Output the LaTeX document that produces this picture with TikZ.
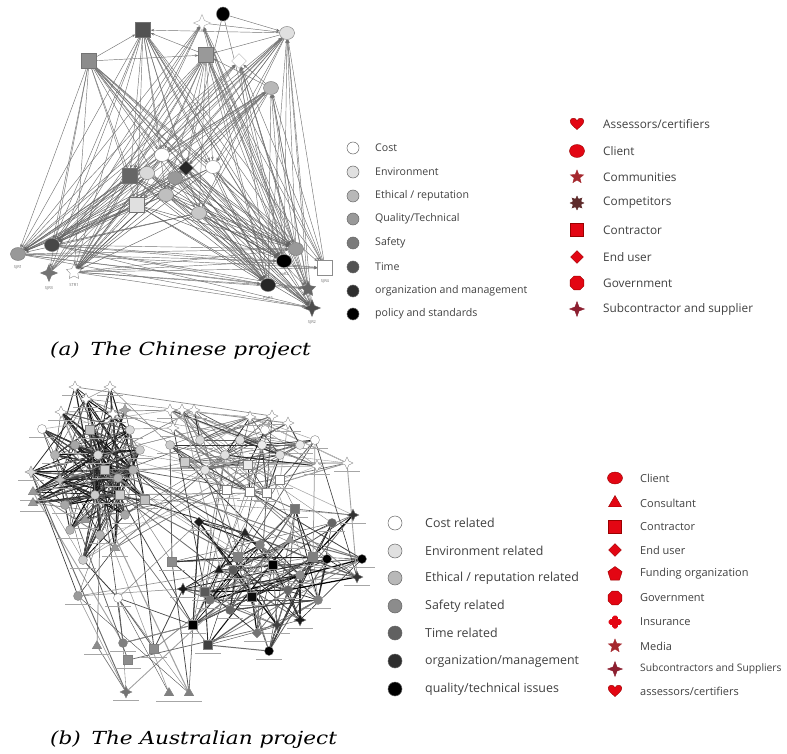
\documentclass[tikz,border=0pt]{standalone}
\usepackage{fontspec}
\setmainfont{DejaVu Serif}
\newfontfamily\legendfont{Open Sans}
\newfontfamily\capfont{DejaVu Serif}[FakeStretch=1.2]
\usetikzlibrary{shapes.geometric,arrows.meta}
\pgfdeclarelayer{edges}
\pgfsetlayers{edges,main}

\definecolor{lred}{HTML}{E30613}
\definecolor{lredline}{HTML}{9A0000}
\definecolor{lwine}{HTML}{A5282E}
\definecolor{lbrown}{HTML}{5E2B2B}
\definecolor{lplum}{HTML}{8C1F30}

% random connectors: from #1<lo..hi> to #4<1..n>, #6 lines,
% grey level between #7 and #8 percent black, width up to 0.3+#9
\newcommand\randedges[9]{%
  \foreach \k in {1,...,#6} {%
    \pgfmathtruncatemacro\ep{random(#2,#3)}%
    \pgfmathtruncatemacro\eq{random(1,#5)}%
    \pgfmathtruncatemacro\eg{random(#7,#8)}%
    \pgfmathsetmacro\ew{0.3+rnd*#9}%
    \ifnum\ep=\eq\relax\else
      \draw[bedge, draw=black!\eg, line width=\ew pt] (#1\ep) -- (#4\eq);
    \fi
  }}

\tikzset{
  anode/.style={draw=black!55, line width=0.4pt, inner sep=0pt},
  acirc/.style={anode, ellipse, minimum width=15, minimum height=13},
  asq/.style={anode, rectangle, minimum size=15},
  adia/.style={anode, diamond, minimum size=15},
  astarf/.style={anode, star, star points=4, star point ratio=2.4, minimum size=17},
  astarv/.style={anode, star, star points=5, star point ratio=2, minimum size=16},
  aedge/.style={draw=black!55, line width=0.45pt, -{Stealth[length=3.5pt,width=2.5pt]}},
  atag/.style={font=\legendfont\fontsize{4}{4}\selectfont, text=black!60, inner sep=0.5pt},
  bnode/.style={draw=black!50, line width=0.35pt, inner sep=0pt},
  bcir/.style={bnode, circle, minimum size=9},
  bsq/.style={bnode, rectangle, minimum size=9},
  bdia/.style={bnode, diamond, minimum size=10},
  btri/.style={bnode, regular polygon, regular polygon sides=3, minimum size=11},
  bst/.style={bnode, star, star points=4, star point ratio=2.2, minimum size=12},
  bedge/.style={line cap=round},
  tagline/.style={draw=black!35, line width=0.6pt},
  lgcirc/.style={draw=black!60, line width=0.5pt, circle, minimum size=12, inner sep=0pt},
  lgcircb/.style={draw=black!60, line width=0.5pt, circle, minimum size=14, inner sep=0pt},
  lgtxt/.style={anchor=west, inner sep=0pt, text=black!75, font=\legendfont\fontsize{10.6}{12}\selectfont},
  lgtxtb/.style={anchor=west, inner sep=0pt, text=black!75, font=\legendfont\fontsize{12.4}{14}\selectfont},
  lgtxtr/.style={anchor=west, inner sep=0pt, text=black!75, font=\legendfont\fontsize{11.8}{13}\selectfont},
  lgtxts/.style={anchor=west, inner sep=0pt, text=black!75, font=\legendfont\fontsize{11}{13}\selectfont},
  rsym/.style={fill=lred, draw=lredline, line width=0.4pt, inner sep=0pt},
  caption/.style={anchor=west, inner sep=0pt, font=\capfont\itshape\fontsize{18}{20}\selectfont},
  heart/.pic={\fill[lred, draw=lredline, line width=0.4pt]
    (0,5.5) .. controls (-4,2) and (-7,-0.5) .. (-6.8,-3)
    .. controls (-6.5,-6.5) and (-1.5,-6.8) .. (0,-3.3)
    .. controls (1.5,-6.8) and (6.5,-6.5) .. (6.8,-3)
    .. controls (7,-0.5) and (4,2) .. (0,5.5) -- cycle;},
  plus/.pic={\fill[lred, rounded corners=1.8pt] (-2.8,-6.5) rectangle (2.8,6.5);
    \fill[lred, rounded corners=1.8pt] (-6.5,-2.8) rectangle (6.5,2.8);}
}

\begin{document}
\begin{tikzpicture}[x=1pt, y=-1pt]
\useasboundingbox (0,0) rectangle (787,754);

% ---------------- (a) network ----------------
\node[asq, fill=black!68] (a1) at (143,30) {};
\node[asq, fill=black!45] (a2) at (89,61) {};
\node[astarf, fill=white, draw=black!35] (a3) at (202,23) {};
\node[acirc, fill=black, minimum width=13, minimum height=14] (a4) at (223,14) {};
\node[acirc, fill=black!12] (a5) at (287,33) {};
\node[asq, fill=black!40] (a6) at (206,55) {};
\node[adia, fill=white, draw=black!30] (a7) at (239,61) {};
\node[acirc, fill=black!28] (a8) at (271,88) {};
\node[acirc, fill=white] (a9) at (162,155) {};
\node[asq, fill=black!60] (a10) at (130,176) {};
\node[acirc, fill=black!15] (a11) at (147,173) {};
\node[adia, fill=black!85] (a12) at (186,168) {};
\node[acirc, fill=white] (a13) at (213,167) {};
\node[acirc, fill=black!40] (a14) at (175,178) {};
\node[acirc, fill=black!25] (a15) at (166,195) {};
\node[asq, fill=black!12] (a16) at (137,205) {};
\node[acirc, fill=black!22] (a17) at (199,213) {};
\node[acirc, fill=black!40] (a18) at (18,254) {};
\node[acirc, fill=black!72] (a19) at (52,245) {};
\node[astarf, fill=black!55] (a20) at (49,273) {};
\node[astarv, fill=white, draw=black!45] (a21) at (74,272) {};
\node[acirc, fill=black!40] (a22) at (296,249) {};
\node[acirc, fill=black] (a23) at (284,261) {};
\node[asq, fill=white, draw=black!45] (a24) at (325,268) {};
\node[acirc, fill=black!85] (a25) at (268,285) {};
\node[astarv, fill=black!60] (a26) at (308,289) {};
\node[astarf, fill=black!70] (a27) at (312,308) {};

\node[atag] (t18) at (18,267) {SJR1};
\node[atag] (t20) at (49,288) {SJR3};
\node[atag] (t21) at (74,285) {STR1};
\node[atag] (t23) at (284,274) {SoR2};
\node[atag] (t24) at (325,281) {SJR4};
\node[atag] (t25) at (268,298) {PoR5};
\node[atag] (t27) at (312,322) {SJR2};

\begin{pgfonlayer}{edges}
  \foreach \s in {1,2,6} \foreach \t in {18,19,20,21,22,23,24,25,26,27}
    {\draw[aedge] (a\s) -- (a\t);}
  \foreach \s in {3,5,7,8} \foreach \t in {18,19,20,21,22,23,24,25,26,27}
    {\draw[aedge] (a\t) -- (a\s);}
  \foreach \s in {9,...,17} \foreach \t in {18,19,21,22,23,25,27}
    {\draw[aedge, draw=black!62] (a\s) -- (a\t);}
  \foreach \s in {1,2,5,6,8} \foreach \t in {9,10,12,13,15,16,17}
    {\draw[aedge] (a\s) -- (a\t);}
  \foreach \s in {18,19,21} \foreach \t in {22,23,24,25,26,27}
    {\draw[aedge] (a\s) -- (a\t);}
  \draw[aedge] (a2) -- (a1);
  \draw[aedge] (a6) -- (a1);
  \draw[aedge] (a5) -- (a1);
  \draw[aedge] (a2) -- (a6);
  \draw[aedge] (a5) -- (a6);
  \draw[aedge] (a8) -- (a6);
  \draw[aedge] (a4) -- (a5);
  \draw[aedge] (a3) -- (a5);
  \draw[aedge] (a8) -- (a7);
  \draw[aedge] (a4) -- (a12);
  \draw[aedge] (a4) -- (a23);
  \draw[aedge] (a3) -- (a10);
\end{pgfonlayer}

% ---------------- (a) legends ----------------
\foreach [count=\n] \c/\t/\y in {white/Cost/148, black!12/Environment/172,
    black!28/{Ethical / reputation}/196, black!40/{Quality/Technical}/219,
    black!52/Safety/243, black!68/Time/267,
    black!82/organization and management/291, black/policy and standards/314} {
  \node[lgcirc, fill=\c] (la\n) at (353,\y) {};
  \node[lgtxt] (lat\n) at (375,\y) {\t};
}

\pic at (577,124) {heart};
\node[rsym, ellipse, minimum width=15, minimum height=13] (lr2) at (577,151) {};
\node[rsym, fill=lwine, draw=lwine, star, star points=5, star point ratio=2.3, minimum size=14] (lr3) at (577,177) {};
\node[rsym, fill=lbrown, draw=lbrown, star, star points=8, star point ratio=1.7, minimum size=14] (lr4) at (577,203) {};
\node[rsym, rectangle, minimum size=13] (lr5) at (577,230) {};
\node[rsym, diamond, minimum size=13] (lr6) at (577,257) {};
\node[rsym, regular polygon, regular polygon sides=8, minimum size=15] (lr7) at (577,283) {};
\node[rsym, fill=lplum, draw=lplum, star, star points=4, star point ratio=2.6, minimum size=15] (lr8) at (577,309) {};
\foreach [count=\n] \t/\y in {{Assessors/certifiers}/124, Client/151, Communities/177,
    Competitors/203, Contractor/230, End user/257, Government/283,
    Subcontractor and supplier/309} {
  \node[lgtxtr] (lrt\n) at (603,\y) {\t};
}

\node[caption] (capa) at (50,351) {(a)\hspace{0.6em}The Chinese project};

% ---------------- (b) network ----------------
\foreach [count=\n] \x/\y/\s/\c in {
  75/387/bst/white, 110/387/bst/white, 86/399/bst/white, 61/412/bst/white,
  125/410/bst/black!35, 113/414/bst/white, 42/429/bcir/white, 31/472/bst/black!15,
  33/492/btri/black!40, 33/503/btri/black!40, 105/470/bsq/black!20, 118/478/bcir/black!30,
  95/495/bcir/black!20, 120/495/bsq/black!20, 133/470/bcir/black!30, 98/455/bcir/black!15,
  75/445/bcir/black!35, 85/520/btri/black!40, 70/530/bcir/black!30, 115/548/btri/black!40,
  83/560/bcir/black!20, 125/515/bcir/black!35, 60/480/bst/black!25, 140/450/bcir/black!20,
  90/430/bsq/black!25, 130/430/bcir/black!15, 55/455/bcir/black!30, 145/500/bsq/black!25,
  100/535/bcir/black!30, 65/505/bcir/black!35} {
  \node[\s, fill=\c] (A\n) at (\x,\y) {};
  \draw[tagline] (\x-13,\y+8) -- (\x+13,\y+8);
}
\foreach [count=\n] \x/\y/\s/\c in {
  170/410/bst/white, 182/410/bst/white, 194/410/bst/white, 173/428/bst/white,
  250/417/bst/white, 272/416/bst/white, 288/423/bst/white, 347/463/bst/white,
  317/466/bst/white, 240/440/bcir/black!12, 262/445/bcir/black!8, 280/455/bcir/black!12,
  225/455/bcir/black!12, 200/440/bcir/black!15, 300/445/bcir/black!8, 248/465/bsq/black!8,
  227/490/bsq/white, 250/492/bsq/white, 267/493/bsq/white, 280/480/bsq/white,
  170/445/bcir/black!20, 185/462/bsq/black!20, 205/470/bcir/black!10, 315/440/bcir/white,
  265/430/bcir/white} {
  \node[\s, fill=\c] (B\n) at (\x,\y) {};
  \draw[tagline] (\x-13,\y+8) -- (\x+13,\y+8);
}
\foreach [count=\n] \x/\y/\s/\c in {
  295/509/bsq/black!55, 353/515/bst/black!80, 332/523/bcir/black!60, 199/522/bdia/black!90,
  245/533/btri/black!85, 238/557/bsq/black!50, 273/565/bsq/black, 313/557/bsq/black!50,
  327/559/bcir/black, 362/559/bcir/black, 357/577/bst/black!80, 219/570/btri/black!90,
  233/570/bcir/black!65, 172/562/bsq/black!45, 290/540/btri/black!40, 260/545/bcir/black!50,
  205/592/bsq/black!65, 183/589/bst/black!90, 252/597/bsq/black!95, 288/590/bcir/black!60,
  300/620/bst/black!90, 277/625/bst/black!75, 257/633/bdia/black!55, 193/625/bsq/black,
  208/645/bsq/black!75, 269/651/bcir/black, 230/610/bcir/black!60, 300/575/bcir/black!45,
  210/600/bcir/black!55, 318/600/bcir/black!50} {
  \node[\s, fill=\c] (C\n) at (\x,\y) {};
  \draw[tagline] (\x-13,\y+8) -- (\x+13,\y+8);
}
\foreach [count=\n] \x/\y/\s/\c in {
  118/598/bcir/white, 78/596/bcir/black!40, 154/649/bsq/black!45, 128/660/bsq/black!45,
  123/643/bcir/black!50, 97/646/btri/black!45, 126/692/bst/black!55, 169/693/btri/black!50,
  189/693/btri/black!50} {
  \node[\s, fill=\c] (D\n) at (\x,\y) {};
  \draw[tagline] (\x-13,\y+8) -- (\x+13,\y+8);
}

\begin{pgfonlayer}{edges}
  \pgfmathsetseed{4242}
  % dense dark core of the left group
  \randedges{A}{11}{16}{A}{30}{170}{65}{100}{1.2}
  \randedges{A}{22}{28}{A}{30}{50}{55}{100}{0.9}
  \randedges{A}{1}{30}{A}{30}{50}{40}{90}{0.8}
  % upper-middle group
  \randedges{B}{1}{25}{B}{25}{55}{25}{65}{0.6}
  \randedges{B}{10}{16}{B}{25}{35}{50}{90}{0.8}
  % lower-right group
  \randedges{C}{1}{30}{C}{30}{120}{50}{100}{1.0}
  % links between the groups
  \randedges{A}{1}{30}{B}{25}{30}{30}{65}{0.5}
  \randedges{B}{1}{25}{C}{30}{30}{30}{75}{0.6}
  \randedges{A}{11}{16}{C}{30}{15}{40}{85}{0.7}
  \randedges{D}{1}{9}{A}{30}{12}{35}{80}{0.8}
  \randedges{D}{1}{9}{C}{30}{12}{35}{75}{0.6}
  \randedges{D}{1}{9}{D}{9}{8}{40}{80}{0.6}
\end{pgfonlayer}

% ---------------- (b) legends ----------------
\foreach [count=\n] \c/\t/\y in {white/Cost related/523, black!12/Environment related/551,
    black!28/{Ethical / reputation related}/578, black!45/Safety related/606,
    black!62/Time related/633, black!82/{organization/management}/661,
    black/{quality/technical issues}/689} {
  \node[lgcircb, fill=\c] (lb\n) at (395,\y) {};
  \node[lgtxtb] (lbt\n) at (425,\y) {\t};
}

\node[rsym, ellipse, minimum width=15, minimum height=12] (ls1) at (615,478) {};
\node[rsym, regular polygon, regular polygon sides=3, minimum size=15] (ls2) at (615,503) {};
\node[rsym, rectangle, minimum size=13] (ls3) at (615,527) {};
\node[rsym, diamond, minimum size=13] (ls4) at (615,550) {};
\node[rsym, regular polygon, regular polygon sides=5, minimum size=15] (ls5) at (615,574) {};
\node[rsym, regular polygon, regular polygon sides=8, minimum size=15] (ls6) at (615,598) {};
\pic at (615,622) {plus};
\node[rsym, fill=lwine, draw=lwine, star, star points=5, star point ratio=2.3, minimum size=14] (ls8) at (615,646) {};
\node[rsym, fill=lplum, draw=lplum, star, star points=4, star point ratio=2.6, minimum size=15] (ls9) at (615,669) {};
\pic at (615,691) {heart};
\foreach [count=\n] \t/\y in {Client/478, Consultant/503, Contractor/527, End user/550,
    Funding organization/574, Government/598, Insurance/622, Media/646} {
  \node[lgtxts] (lst\n) at (640,\y) {\t};
}
\node[lgtxts, font=\legendfont\fontsize{10.3}{12}\selectfont] (lst9) at (640,669) {Subcontractors and Suppliers};
\node[lgtxts] (lst10) at (640,691) {assessors/certifiers};

\node[caption] (capb) at (50,740) {(b)\hspace{0.6em}The Australian project};
\end{tikzpicture}
\end{document}
